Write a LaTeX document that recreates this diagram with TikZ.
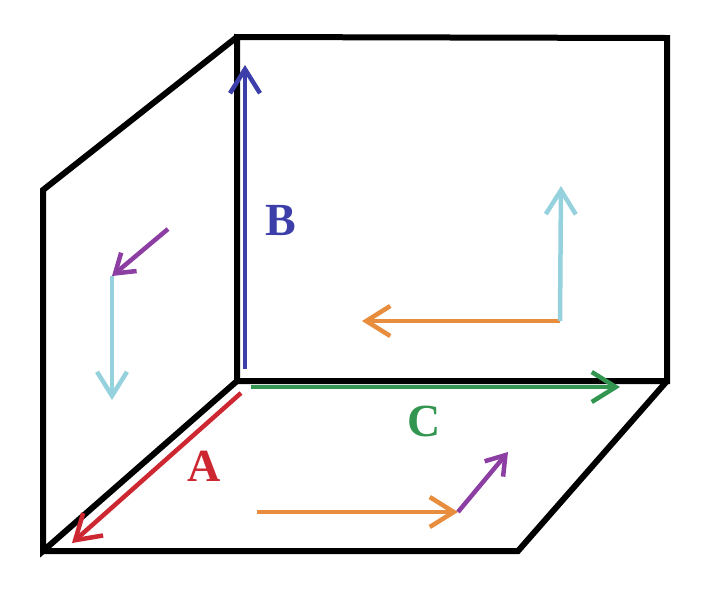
\documentclass[tikz,border=0pt]{standalone}
\usepackage{fontspec}
\setmainfont{Liberation Serif}
\usetikzlibrary{arrows.meta}
\definecolor{cblue}{RGB}{60,62,170}
\definecolor{cgreen}{RGB}{50,150,80}
\definecolor{cred}{RGB}{205,40,50}
\definecolor{corange}{RGB}{232,140,62}
\definecolor{ccyan}{RGB}{150,210,222}
\definecolor{cpurple}{RGB}{140,62,162}
\tikzset{
  wall/.style={line width=6pt, line join=miter, black},
  vec/.style={line width=4.5pt, -{Straight Barb[length=24pt, width=30pt]}},
  smallvec/.style={line width=4.5pt, -{Straight Barb[length=18pt, width=24pt]}},
  lab/.style={font=\bfseries\fontsize{46}{46}\selectfont, inner sep=0pt}
}
\begin{document}
\begin{tikzpicture}[x=1pt,y=-1pt]
\useasboundingbox (0,0) rectangle (720,590);
% corners
\coordinate (btl) at (237,37);
\coordinate (btr) at (667,38);
\coordinate (bbr) at (667,381);
\coordinate (bbl) at (237,381);
\coordinate (ltl) at (43,190);
\coordinate (lbl) at (43,551);
\coordinate (fbr) at (518,551);
% walls
\draw[wall] (bbl) -- (btl) -- (btr) -- (bbr) -- cycle;
\draw[wall] (btl) -- (ltl) -- (lbl) -- (bbl);
\draw[wall] (lbl) -- (fbr) -- (bbr);
% axis arrows
\coordinate (bs) at (245,369);
\coordinate (be) at (245,65);
\draw[vec, cblue] (bs) -- (be);
\coordinate (cs) at (251,387);
\coordinate (ce) at (620,387);
\draw[vec, cgreen] (cs) -- (ce);
\coordinate (as) at (241,393);
\coordinate (ae) at (72,543);
\draw[vec, cred] (as) -- (ae);
\node[lab, text=cblue] (labB) at (281,221) {B};
\node[lab, text=cgreen] (labC) at (424,421) {C};
\node[lab, text=cred] (labA) at (204,466) {A};
% back wall arrows
\coordinate (bw) at (560,321);
\coordinate (bwl) at (362,321);
\coordinate (bwu) at (561,186);
\draw[vec, corange] (bw) -- (bwl);
\draw[vec, ccyan] (bw) -- (bwu);
% floor arrows
\coordinate (fs) at (257,512);
\coordinate (fm) at (458,512);
\coordinate (fe) at (508,452);
\draw[vec, corange] (fs) -- (fm);
\draw[smallvec, cpurple] (fm) -- (fe);
% left wall arrows
\coordinate (ls) at (168,229);
\coordinate (lm) at (112,276);
\coordinate (le) at (112,400);
\draw[smallvec, cpurple] (ls) -- (lm);
\draw[vec, ccyan] (lm) -- (le);
\end{tikzpicture}
\end{document}
